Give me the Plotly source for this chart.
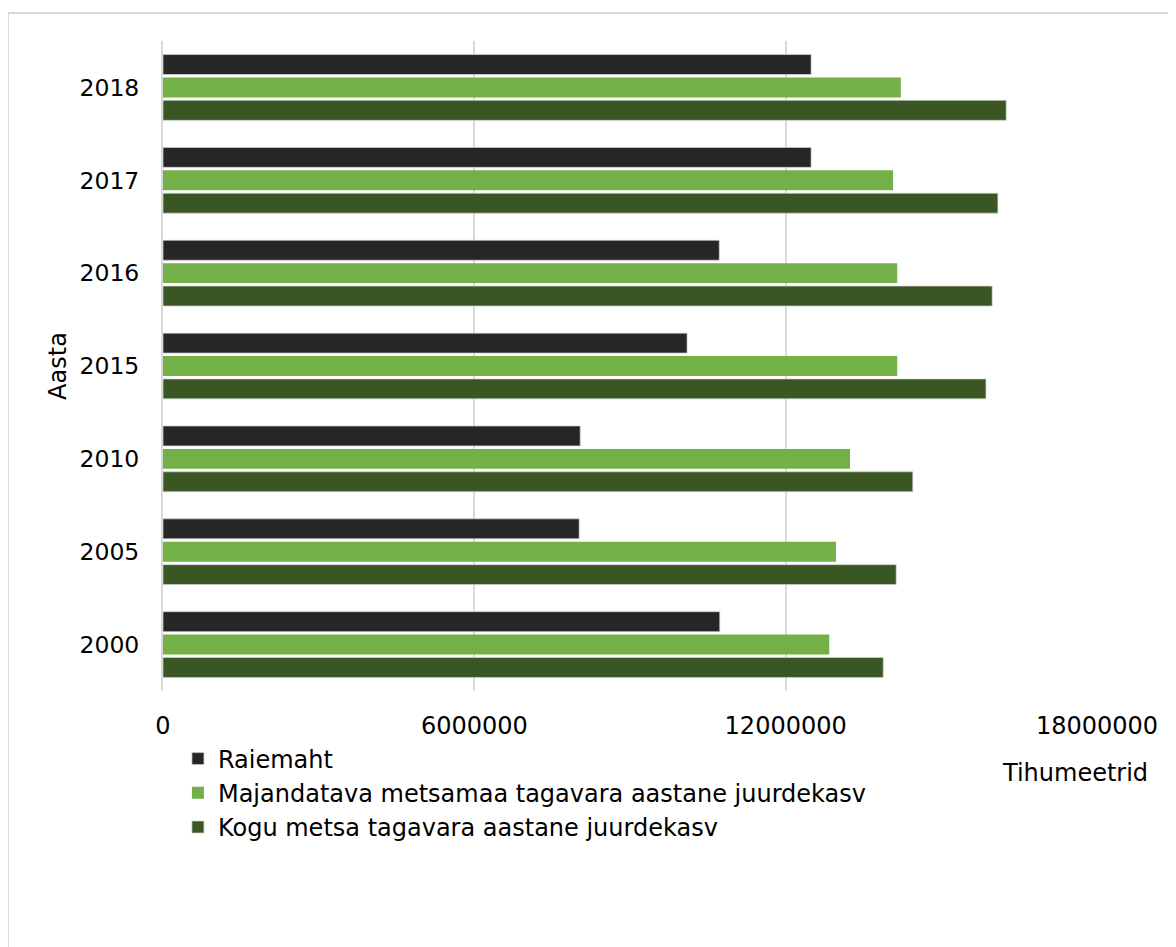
import plotly.graph_objects as go

years = ["2000", "2005", "2010", "2015", "2016", "2017", "2018"]
raiemaht = [10730000, 8020000, 8040000, 10100000, 10720000, 12490000, 12490000]
majandatava = [12840000, 12970000, 13240000, 14150000, 14150000, 14070000, 14220000]
kogu = [13880000, 14130000, 14450000, 15860000, 15980000, 16090000, 16250000]
x_ticks = [0, 6000000, 12000000, 18000000]

FONT = "Verdana, DejaVu Sans, sans-serif"
edge = dict(color="rgba(210,210,210,0.7)", width=1)

fig = go.Figure()
fig.add_trace(go.Bar(y=years, x=kogu, orientation="h",
                     name="Kogu metsa tagavara aastane juurdekasv",
                     marker=dict(color="#3a5623", line=edge)))
fig.add_trace(go.Bar(y=years, x=majandatava, orientation="h",
                     name="Majandatava metsamaa tagavara aastane juurdekasv",
                     marker=dict(color="#73b048", line=dict(width=0))))
fig.add_trace(go.Bar(y=years, x=raiemaht, orientation="h",
                     name="Raiemaht",
                     marker=dict(color="#262626", line=edge)))

# page body adds an 8px offset; margins compensate so plot area sits at x 163-1097, y 41-691
fig.update_layout(
    width=1176, height=947,
    margin=dict(l=155, r=87, t=33, b=264),
    paper_bgcolor="white", plot_bgcolor="white",
    barmode="group", bargap=0.26, bargroupgap=0.13,
    font=dict(family=FONT, size=24, color="#000000"),
    showlegend=True,
    legend=dict(traceorder="reversed", orientation="v",
                x=0.016, y=-0.07, xanchor="left", yanchor="top",
                font=dict(size=24, family=FONT), bgcolor="rgba(0,0,0,0)"),
    xaxis=dict(range=[0, 18000000], tickvals=x_ticks,
               ticktext=[str(v) for v in x_ticks],
               showgrid=True, gridcolor="#d9d9d9", gridwidth=2,
               zeroline=False, showline=False, ticks="",
               ticklabelstandoff=18, tickfont=dict(size=24)),
    yaxis=dict(type="category", categoryorder="array", categoryarray=years,
               showgrid=False, zeroline=False,
               showline=True, linecolor="#d9d9d9", linewidth=2,
               ticks="", ticklabelstandoff=17, tickfont=dict(size=23.5),
               title=dict(text="Aasta", standoff=6,
                          font=dict(size=24, family=FONT))),
    annotations=[dict(text="Tihumeetrid", xref="paper", yref="paper",
                      x=0.976, y=-0.126, xanchor="center", yanchor="middle",
                      showarrow=False, font=dict(size=24, family=FONT))],
    shapes=[dict(type="rect", xref="paper", yref="paper",
                 x0=-0.166, x1=2.0, y0=-2.0, y1=1.043,
                 line=dict(color="#d9d9d9", width=2), fillcolor="rgba(0,0,0,0)",
                 layer="below")],
)

fig.write_html("out.html")
